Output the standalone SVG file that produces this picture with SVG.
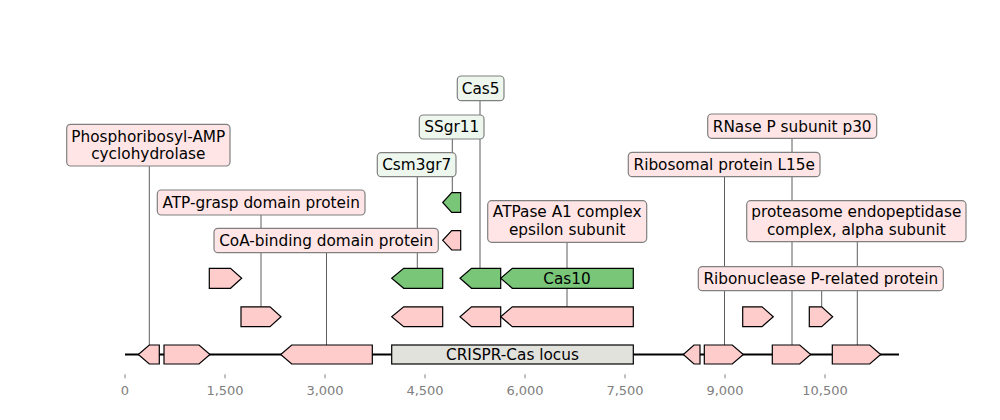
<svg xmlns="http://www.w3.org/2000/svg" width="1000" height="420" viewBox="0 0 1000 420">
<style>
text{font-family:"DejaVu Sans","Liberation Sans",sans-serif;}
.lbl{font-size:15.3px;fill:#000;text-anchor:middle;}
.tick{font-size:13px;fill:#808080;text-anchor:middle;}
.pk{fill:#ffcccc;stroke:#000;stroke-width:1.2;stroke-linejoin:miter;}
.gr{fill:#79c679;stroke:#000;stroke-width:1.2;}
.bp{fill:#ffe5e5;stroke:#808080;stroke-width:1.2;}
.bg{fill:#edf7ed;stroke:#808080;stroke-width:1.2;}
.cn line{stroke:#333;stroke-width:0.8;}
.ax line{stroke:#808080;stroke-width:1;}
</style>
<rect width="1000" height="420" fill="#fff"/>
<line x1="125" y1="354.5" x2="899" y2="354.5" stroke="#000" stroke-width="2"/>
<g id="axis" class="ax">
<line x1="125" y1="374.3" x2="125" y2="378.3"/><line x1="225" y1="374.3" x2="225" y2="378.3"/><line x1="325" y1="374.3" x2="325" y2="378.3"/><line x1="425" y1="374.3" x2="425" y2="378.3"/><line x1="525" y1="374.3" x2="525" y2="378.3"/><line x1="625" y1="374.3" x2="625" y2="378.3"/><line x1="725" y1="374.3" x2="725" y2="378.3"/><line x1="825" y1="374.3" x2="825" y2="378.3"/>
<text class="tick" x="125" y="395">0</text><text class="tick" x="225" y="395">1,500</text><text class="tick" x="325" y="395">3,000</text><text class="tick" x="425" y="395">4,500</text><text class="tick" x="525" y="395">6,000</text><text class="tick" x="625" y="395">7,500</text><text class="tick" x="725" y="395">9,000</text><text class="tick" x="825" y="395">10,500</text>
</g>
<g id="connectors" class="cn">
<line x1="149.3" y1="166" x2="149.3" y2="345"/>
<line x1="261" y1="215" x2="261" y2="306.8"/>
<line x1="326.5" y1="252.7" x2="326.5" y2="345"/>
<line x1="417.3" y1="176.7" x2="417.3" y2="268.3"/>
<line x1="452.3" y1="139" x2="452.3" y2="192.7"/>
<line x1="480" y1="100.7" x2="480" y2="268.3"/>
<line x1="567" y1="242.3" x2="567" y2="306.8"/>
<line x1="724.5" y1="176.7" x2="724.5" y2="345"/>
<line x1="792" y1="138.3" x2="792" y2="345"/>
<line x1="857.3" y1="241.7" x2="857.3" y2="345"/>
<line x1="821.7" y1="290.7" x2="821.7" y2="306.8"/>
</g>
<g id="genes-main">
<path class="pk" d="M159.3,345 L149.3,345 L138.3,354.5 L149.3,364 L159.3,364Z"/>
<path class="pk" d="M164,345 L199,345 L210,354.5 L199,364 L164,364Z"/>
<path class="pk" d="M372.3,345 L291.7,345 L280.7,354.5 L291.7,364 L372.3,364Z"/>
<path class="pk" d="M700,345 L694,345 L683.3,354.5 L694,364 L700,364Z"/>
<path class="pk" d="M704.3,345 L732.3,345 L743.3,354.5 L732.3,364 L704.3,364Z"/>
<path class="pk" d="M772.3,345 L799.7,345 L810.7,354.5 L799.7,364 L772.3,364Z"/>
<path class="pk" d="M832.3,345 L869.7,345 L880.7,354.5 L869.7,364 L832.3,364Z"/>
</g>
<g id="locus">
<rect x="391.7" y="345" width="241.6" height="19" fill="#e2e2dd" stroke="#000" stroke-width="1.2"/>
<text class="lbl" x="512.5" y="359.8">CRISPR-Cas locus</text>
</g>
<g id="genes-row1">
<path class="pk" d="M241,306.8 L270,306.8 L281,316.7 L270,326.6 L241,326.6Z"/>
<path class="pk" d="M442.7,306.8 L403.7,306.8 L391.7,316.7 L403.7,326.6 L442.7,326.6Z"/>
<path class="pk" d="M500.7,306.8 L471.5,306.8 L460,316.7 L471.5,326.6 L500.7,326.6Z"/>
<path class="pk" d="M633.3,306.8 L512.3,306.8 L500.7,316.7 L512.3,326.6 L633.3,326.6Z"/>
<path class="pk" d="M742.7,306.8 L762,306.8 L773.3,316.7 L762,326.6 L742.7,326.6Z"/>
<path class="pk" d="M809.3,306.8 L821.7,306.8 L832.7,316.7 L821.7,326.6 L809.3,326.6Z"/>
</g>
<g id="genes-row2">
<path class="pk" d="M209.3,268.3 L230.5,268.3 L241.7,278.3 L230.5,288.3 L209.3,288.3Z"/>
<path class="gr" d="M442.7,268.3 L403.7,268.3 L391.7,278.3 L403.7,288.3 L442.7,288.3Z"/>
<path class="gr" d="M500.7,268.3 L471.5,268.3 L460,278.3 L471.5,288.3 L500.7,288.3Z"/>
</g>
<g id="cas10">
<path class="gr" d="M633.3,268.3 L512.3,268.3 L500.7,278.3 L512.3,288.3 L633.3,288.3Z"/>
<text class="lbl" x="567" y="283.6">Cas10</text>
</g>
<g id="genes-row3">
<path class="pk" d="M460.7,230.7 L451.7,230.7 L442.7,240.3 L451.7,250 L460.7,250Z"/>
<path class="gr" d="M460.7,192.7 L451.7,192.7 L442.7,202.5 L451.7,212.3 L460.7,212.3Z"/>
</g>
<g id="label-phospho">
<rect class="bp" x="66.7" y="124.3" width="163.3" height="41.7" rx="4"/>
<text class="lbl" x="148.3" y="141.7">Phosphoribosyl-AMP</text>
<text class="lbl" x="148.3" y="159.2">cyclohydrolase</text>
</g>
<g id="label-atpgrasp">
<rect class="bp" x="157.3" y="190" width="207.7" height="25" rx="4"/>
<text class="lbl" x="261.2" y="207.8">ATP-grasp domain protein</text>
</g>
<g id="label-coa">
<rect class="bp" x="214" y="228.3" width="224.3" height="24.4" rx="4"/>
<text class="lbl" x="326.2" y="246">CoA-binding domain protein</text>
</g>
<g id="label-csm3gr7">
<rect class="bg" x="377.3" y="152.7" width="78.7" height="24" rx="4"/>
<text class="lbl" x="416.7" y="170">Csm3gr7</text>
</g>
<g id="label-ssgr11">
<rect class="bg" x="419.3" y="115" width="64.7" height="24" rx="4"/>
<text class="lbl" x="451.7" y="132.3">SSgr11</text>
</g>
<g id="label-cas5">
<rect class="bg" x="457.3" y="76" width="46.7" height="24.7" rx="4"/>
<text class="lbl" x="480.7" y="93.7">Cas5</text>
</g>
<g id="label-atpase">
<rect class="bp" x="487.7" y="200.7" width="159" height="41.6" rx="4"/>
<text class="lbl" x="567.2" y="217">ATPase A1 complex</text>
<text class="lbl" x="567.2" y="234.5">epsilon subunit</text>
</g>
<g id="label-rnasep">
<rect class="bp" x="707.7" y="114" width="169" height="24.3" rx="4"/>
<text class="lbl" x="792.2" y="131.5">RNase P subunit p30</text>
</g>
<g id="label-ribosomal">
<rect class="bp" x="628.3" y="152.3" width="191.7" height="24.4" rx="4"/>
<text class="lbl" x="724.2" y="169.8">Ribosomal protein L15e</text>
</g>
<g id="label-proteasome">
<rect class="bp" x="746.7" y="200.7" width="219.3" height="41" rx="4"/>
<text class="lbl" x="856.3" y="217">proteasome endopeptidase</text>
<text class="lbl" x="856.3" y="234.5">complex, alpha subunit</text>
</g>
<g id="label-ribonuclease">
<rect class="bp" x="698.3" y="266.7" width="245" height="24" rx="4"/>
<text class="lbl" x="820.8" y="284">Ribonuclease P-related protein</text>
</g>
</svg>
